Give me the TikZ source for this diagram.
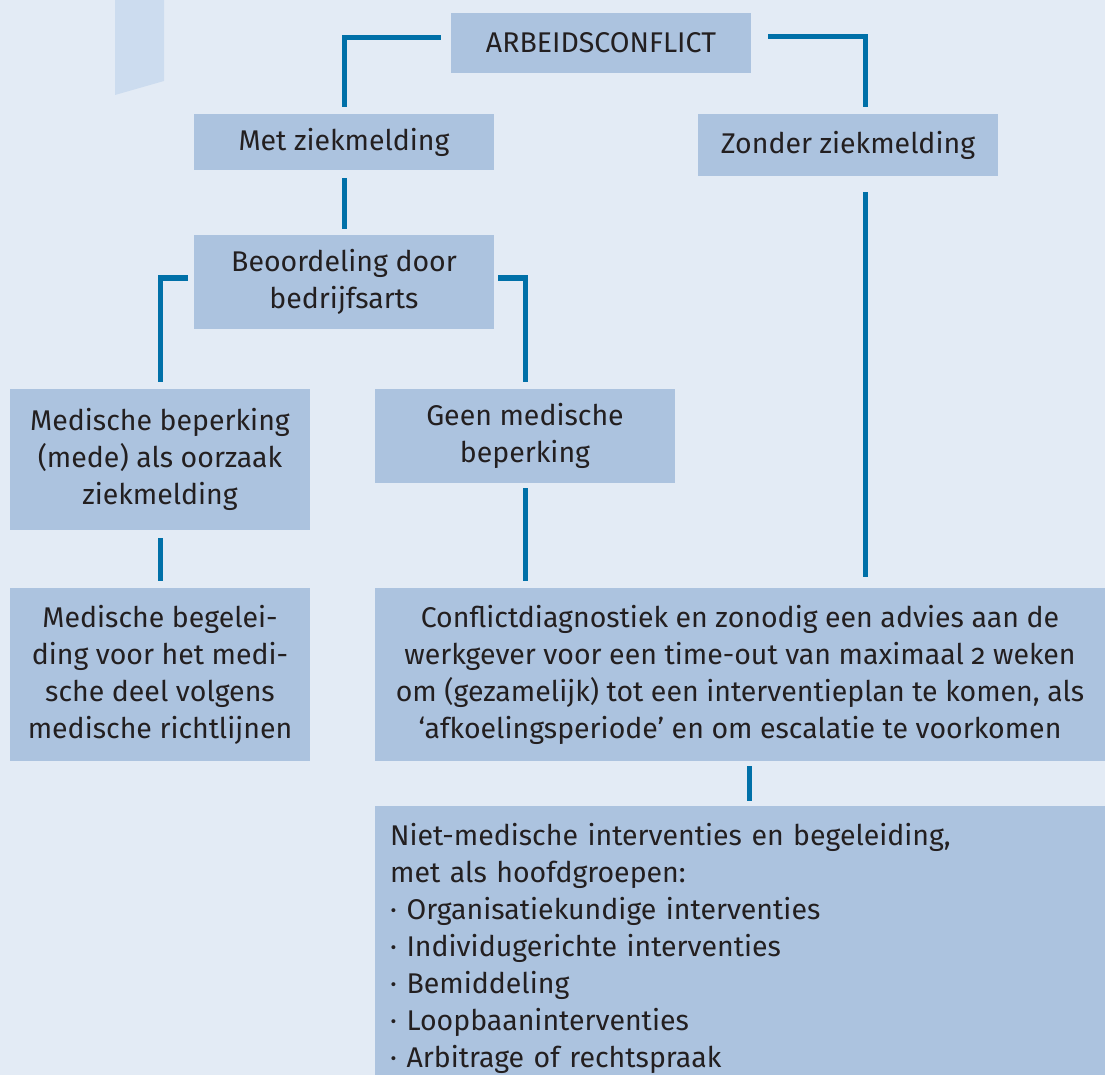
\documentclass[tikz,border=0pt]{standalone}
\usepackage{fontspec}
\setmainfont{Fira Sans}[Numbers=OldStyle]
\usepackage{tikz}
\usetikzlibrary{positioning, calc}
\definecolor{mBack}{HTML}{E3EBF5}
\definecolor{mBox}{HTML}{ACC3DF}
\definecolor{mTab}{HTML}{CCDCEF}
\definecolor{mLine}{HTML}{0070A8}
\definecolor{mText}{HTML}{231F20}

\begin{document}
\begin{tikzpicture}[x=1pt, y=-1pt,
      box/.style={fill=mBox, inner sep=0pt, minimum width=300pt, align=center,
        text=mText, font=\fontsize{28.5}{37}\selectfont},
      link/.style={draw=mLine, line width=5pt}]
    \useasboundingbox (0,0) rectangle (1105,1075);
    \fill[mBack] (0,0) rectangle (1105,1075);
    \fill[mTab] (115,0) -- (164,0) -- (164,81) -- (115,95) -- cycle;
    % boxes
    \node[box, minimum height=60pt] (arbeid) at (601,43) {ARBEIDSCONFLICT};
    \node[box, minimum height=56pt] (met) at (344,142) {Met ziekmelding};
    \node[box, minimum height=62pt] (zonder) at (848,145) {Zonder ziekmelding};
    \node[box, minimum height=94pt] (beoord) at (344,282) {Beoordeling door\\bedrijfsarts};
    \node[box, minimum height=141pt] (medbep) at (160,459.5)
      {Medische beperking\\(mede) als oorzaak\\ziekmelding};
    \node[box, minimum height=94pt] (geen) at (525,436) {Geen medische\\beperking};
    \node[box, minimum height=173pt] (medbeg) at (160,674.5)
      {Medische begelei-\\ding voor het medi-\\sche deel volgens\\medische richtlijnen};
    \node[box, minimum width=730pt, minimum height=173pt] (conflict) at (740,674.5)
      {Conflictdiagnostiek en zonodig een advies aan de\\
       werkgever voor een time-out van maximaal 2 weken\\
       om (gezamelijk) tot een interventieplan te komen, als\\
       ‘afkoelingsperiode’ en om escalatie te voorkomen};
    \node[box, minimum width=730pt, minimum height=284pt, align=left, anchor=north west,
      inner xsep=15pt, text width=700pt] (niet) at (375,806)
      {Niet-medische interventies en begeleiding,\\
       met als hoofdgroepen:\\
       · Organisatiekundige interventies\\
       · Individugerichte interventies\\
       · Bemiddeling\\
       · Loopbaaninterventies\\
       · Arbitrage of rechtspraak};
    % connectors
    \draw[link, shorten <=10pt, shorten >=7pt] ([yshift=5pt]arbeid.west) -| (met.north);
    \draw[link, shorten <=17pt, shorten >=7pt] ([yshift=6pt]arbeid.east) -| ([xshift=17pt]zonder.north);
    \draw[link, shorten <=8pt, shorten >=6pt] (met) -- (beoord);
    \draw[link, shorten <=6pt, shorten >=7pt] ([yshift=4pt]beoord.west) -| (medbep.north);
    \draw[link, shorten <=4pt, shorten >=7pt] ([yshift=4pt]beoord.east) -| (geen.north);
    \draw[link, shorten <=8pt, shorten >=7pt] (medbep) -- (medbeg);
    \draw[link, shorten <=5pt, shorten >=7pt] (geen.south) -- (geen.south |- conflict.north);
    \draw[link, shorten <=16pt, shorten >=11pt] ([xshift=17pt]zonder.south)
      -- ([xshift=17pt]zonder.south |- conflict.north);
    \draw[link, shorten <=5pt, shorten >=5pt] ([xshift=9pt]conflict.south)
      -- ([xshift=9pt]conflict.south |- niet.north);
  \end{tikzpicture}
\end{document}
